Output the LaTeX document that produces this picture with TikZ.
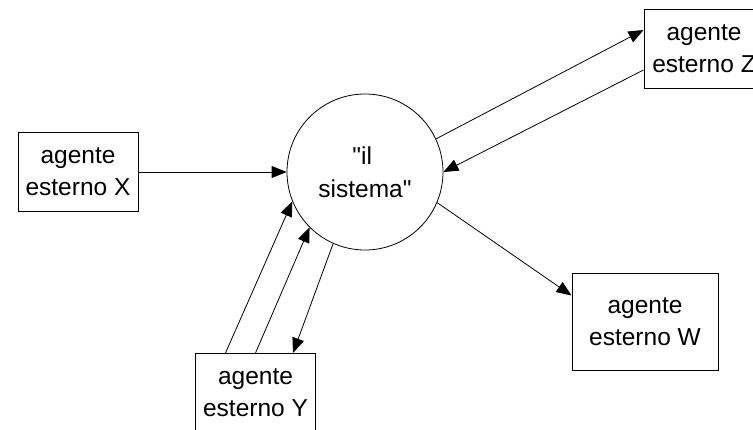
\documentclass[tikz,border=0pt]{standalone}
\usepackage{fontspec}
\newfontfamily\agfont{Liberation Sans}
\usetikzlibrary{arrows.meta,calc}
\begin{document}
\begin{tikzpicture}[x=1pt,y=-1pt,
  every node/.style={font=\agfont\fontsize{24.5}{32}\selectfont, align=center, inner sep=0pt},
  agent/.style={draw, line width=1pt, minimum width=120pt, minimum height=79pt},
  flow/.style={line width=0.8pt, -{Triangle[length=15pt,width=12pt]}}]
\clip (0,0) rectangle (753,429);
\fill[white] (0,0) rectangle (753,429);
\node[agent] (X) at (78,172) {agente\\esterno X};
\node[agent] (Y) at (255.5,393) {agente\\esterno Y};
\node[agent] (Z) at (704,49) {agente\\esterno Z};
\node[agent, minimum width=146pt, minimum height=97pt] (W) at (645,321.5) {agente\\esterno W};
\node[draw, circle, line width=0.8pt, minimum size=156pt] (sys) at (365,172) {\raisebox{1pt}{"il\phantom{i}}\\sistema"};
\draw[flow] (X.east) -- (sys.west);
\draw[flow] (sys.25) -- ([yshift=19pt]Z.west);
\draw[flow] ([yshift=-21pt]Z.west) -- (sys.east);
\draw[flow] (sys.-23) -- ([yshift=26pt]W.west);
\draw[flow] ([xshift=-30pt]Y.north) -- (sys.202);
\draw[flow] (Y.north) -- (sys.225);
\draw[flow] (sys.246) -- ([xshift=37.5pt]Y.north);
\end{tikzpicture}
\end{document}
